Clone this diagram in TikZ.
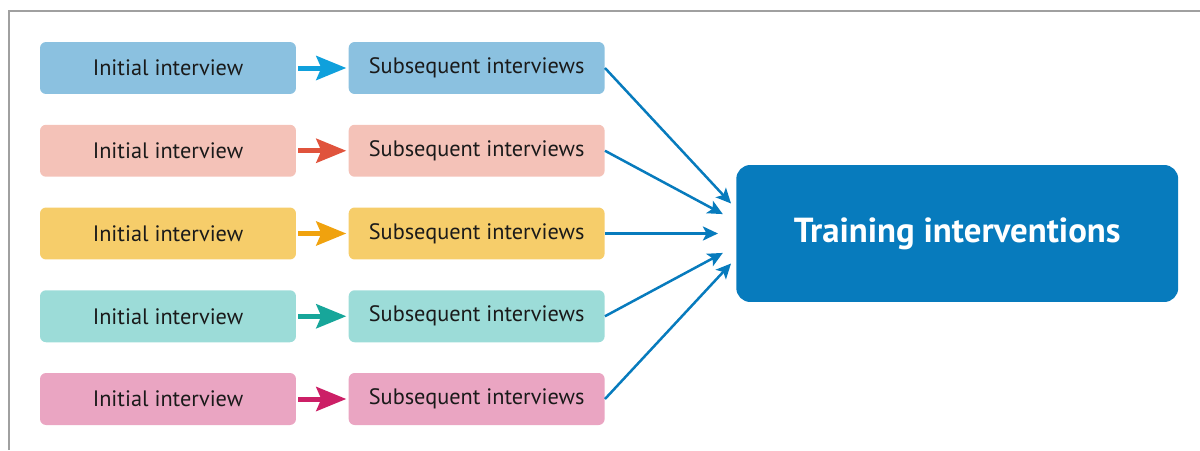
\documentclass[tikz,border=0pt]{standalone}
\usepackage{fontspec}
\setmainfont{PT Sans}
\usetikzlibrary{positioning,arrows.meta}
\definecolor{framegray}{RGB}{160,160,160}
\definecolor{txtdark}{RGB}{26,26,26}
\definecolor{trainblue}{HTML}{077BBD}
% box fills and step arrows, one pair per row
\definecolor{fillA}{HTML}{8BC1E0}\definecolor{stepA}{HTML}{0FA0DC}
\definecolor{fillB}{HTML}{F4C2B8}\definecolor{stepB}{HTML}{E0533C}
\definecolor{fillC}{HTML}{F6CD6A}\definecolor{stepC}{HTML}{F0A20E}
\definecolor{fillD}{HTML}{9CDCD8}\definecolor{stepD}{HTML}{17A69A}
\definecolor{fillE}{HTML}{EAA5C2}\definecolor{stepE}{HTML}{CC1F66}
\tikzset{
  stage/.style={rounded corners=0.12cm, minimum width=5.12cm,
    minimum height=1.04cm, inner sep=0pt, text=txtdark,
    font=\fontsize{12.7}{15}\selectfont},
  steparrow/.style={line width=0.1cm, shorten <=0.04cm, shorten >=0.04cm,
    -{Stealth[length=0.6cm, width=0.48cm, inset=0.1cm]}},
  feed/.style={trainblue, line width=0.05cm,
    -{Stealth[length=0.3cm, width=0.28cm, inset=0.07cm]}}
}
\begin{document}
\begin{tikzpicture}[x=0.02cm, y=-0.02cm]
\useasboundingbox (0,0) rectangle (1200,450);
% page frame: top and left rule only
\draw[framegray, line width=0.04cm] (9,450) -- (9,11) -- (1200,11);
% five interview rows, each with its own colour
\foreach \fc/\ac [count=\i] in {fillA/stepA, fillB/stepB,
    fillC/stepC, fillD/stepD, fillE/stepE} {
  \node[stage, fill=\fc] (init\i) at (168, {68+82.75*(\i-1)}) {Initial interview};
  \node[stage, fill=\fc, right=1.04cm of init\i] (sub\i) {Subsequent interviews};
  \draw[steparrow, \ac] (init\i) -- (sub\i);
}
% target box; the feeding arrows all aim at a hub just inside its left edge
\node[rounded corners=0.28cm, fill=trainblue, minimum width=8.84cm,
  minimum height=2.74cm, text=white,
  font=\fontsize{19.8}{24}\selectfont\bfseries,
  right=2.62cm of sub3] (train) {Training interventions};
\coordinate[right=0.46cm of train.west] (hub);
\foreach \i in {1,...,5}
  \draw[feed, shorten >=0.82cm] (sub\i.east) -- (hub);
\end{tikzpicture}
\end{document}
